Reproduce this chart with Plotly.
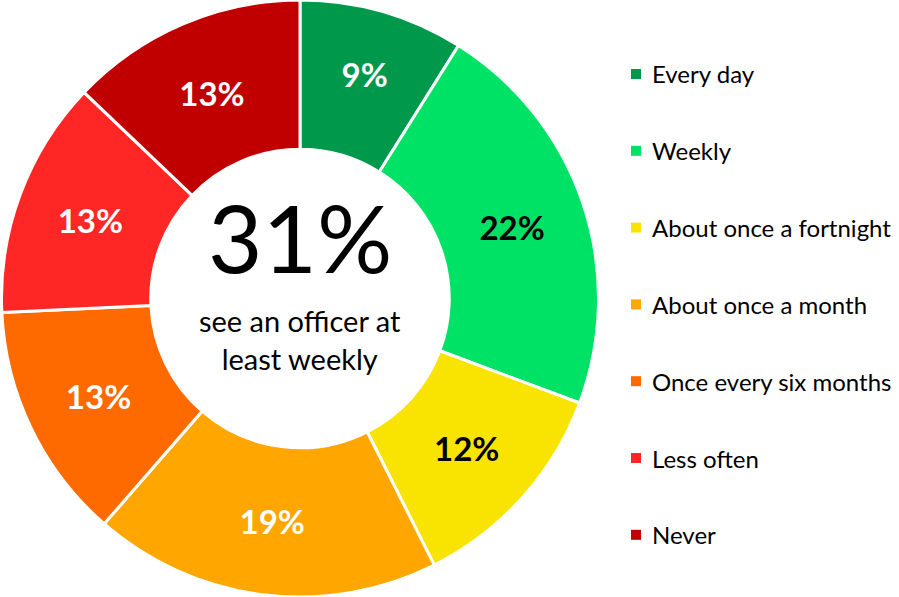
import plotly.graph_objects as go

categories = ["Every day", "Weekly", "About once a fortnight", "About once a month",
              "Once every six months", "Less often", "Never"]
values = [9, 22, 12, 19, 13, 13, 13]
colors = ["#00994C", "#00E266", "#F8E400", "#FFA600", "#FF6A00", "#FF2626", "#C00000"]
text_colors = ["white", "black", "black", "white", "white", "white", "white"]
center_value = "31%"
center_caption = ["see an officer at", "least weekly"]

W, H = 899, 597
FONT = "Lato"

fig = go.Figure()
fig.add_trace(go.Pie(
    labels=categories, values=values, hole=0.5, sort=False, direction="clockwise",
    rotation=0, marker=dict(colors=colors, line=dict(color="white", width=3)),
    texttemplate="%{value}%", textinfo="text", textposition="inside",
    insidetextorientation="horizontal",
    textfont=dict(family=FONT, size=33, color=text_colors, weight="bold"),
    domain=dict(x=[0, 600 / W], y=[0, 1]), showlegend=False, hoverinfo="label+value",
))

# center text
cx = 300 / W
fig.add_annotation(x=cx, y=1 - 236 / H, xref="paper", yref="paper", text=center_value,
                   showarrow=False, font=dict(family=FONT, size=94, color="black"))
fig.add_annotation(x=cx, y=1 - 339 / H, xref="paper", yref="paper",
                   text="<br>".join(center_caption), showarrow=False,
                   font=dict(family=FONT, size=29, color="black"))

# manual legend
for i, (c, col) in enumerate(zip(categories, colors)):
    yc = 74 + i * 76.8
    fig.add_shape(type="rect", xref="paper", yref="paper",
                  x0=631 / W, x1=641 / W, y0=1 - (yc + 5) / H, y1=1 - (yc - 5) / H,
                  fillcolor=col, line=dict(width=0))
    fig.add_annotation(x=650 / W, y=1 - yc / H, xref="paper", yref="paper", text=c,
                       showarrow=False, xanchor="left", yanchor="middle",
                       font=dict(family=FONT, size=24, color="black"))

fig.update_layout(width=W, height=H, margin=dict(l=0, r=0, t=0, b=0),
                  paper_bgcolor="white", plot_bgcolor="white")
fig.write_html("out.html", post_script="document.body.style.margin='0';",
               config={"displayModeBar": False})
